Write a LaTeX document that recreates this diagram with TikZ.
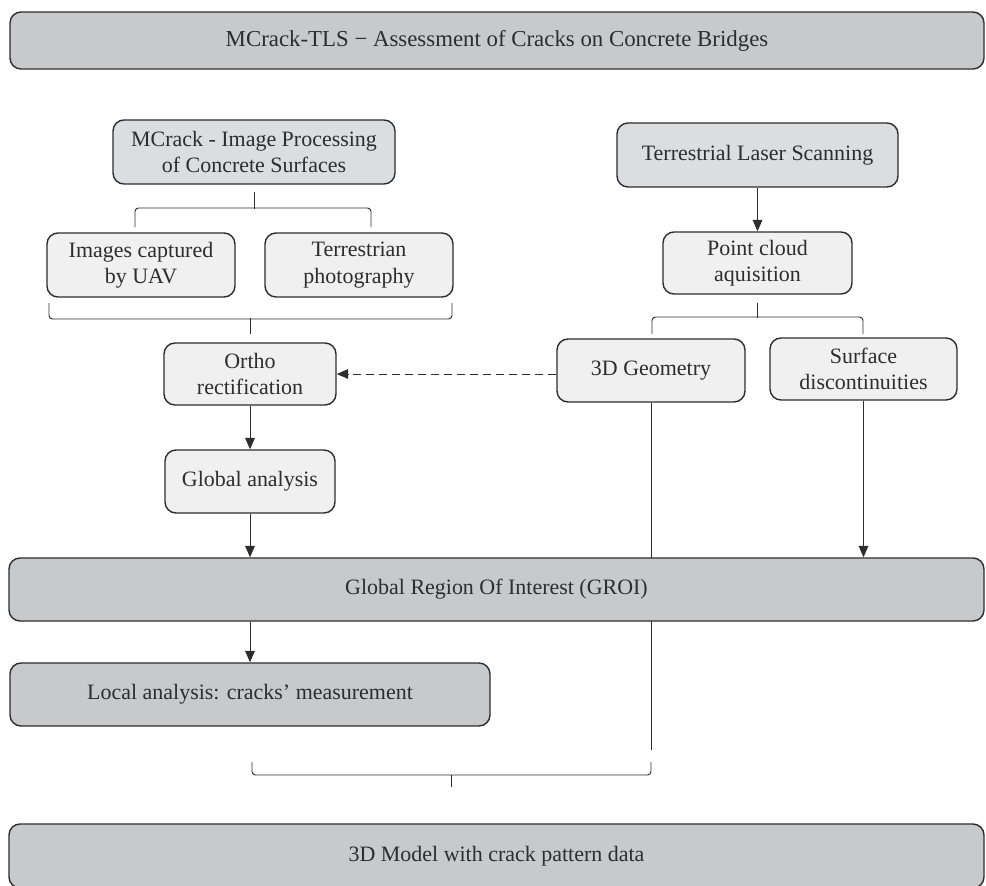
\documentclass[tikz,border=0pt]{standalone}
\usepackage{fontspec}
\setmainfont{Liberation Serif}
\usetikzlibrary{arrows.meta,calc}
\definecolor{gdark}{RGB}{200,201,203}
\definecolor{gmid}{RGB}{220,221,223}
\definecolor{glight}{RGB}{240,240,240}
\definecolor{ink}{RGB}{45,45,45}

\begin{document}
\begin{tikzpicture}[x=0.02cm,y=-0.02cm,
  box/.style={draw=ink, line width=0.8pt, rounded corners=0.22cm, align=center,
    inner sep=0pt, text=ink, font=\fontsize{12.5}{15}\selectfont},
  dk/.style={box, fill=gdark},
  md/.style={box, fill=gmid},
  lt/.style={box, fill=glight},
  wh/.style 2 args={minimum width=#1*0.02cm, minimum height=#2*0.02cm},
  link/.style={draw=ink, line width=0.55pt},
  arr/.style={link, -{Triangle[length=6.5pt,width=5.5pt]}}]
\useasboundingbox (0,0) rectangle (986,885);
\clip (0,0) rectangle (986,885);

% header
\node[dk, wh={974}{57}, font=\fontsize{13}{15}\selectfont] (title) at (497,40.5) {MCrack-TLS − Assessment of Cracks on Concrete Bridges};

% image branch
\node[md, wh={282}{64}] (mcrack) at (254,152) {MCrack - Image Processing\\of Concrete Surfaces};
\foreach \n/\x/\t in {uav/141/{Images captured\\by UAV}, photo/359/{Terrestrian\\photography}}
  \node[lt, wh={188}{64}] (\n) at (\x,265) {\t};
\node[lt, wh={172}{62}] (ortho) at (250,374) {Ortho\\rectification};
\node[lt, wh={170}{63}] (glob) at (250,481.5) {Global analysis};

% laser branch
\node[md, wh={281}{64}] (tls) at (757.5,155) {Terrestrial Laser Scanning};
\node[lt, wh={189}{62}] (pc) at (757.5,263) {Point cloud\\aquisition};
\node[lt, wh={188}{63}] (geo) at (651,370.5) {3D Geometry};
\node[lt, wh={187}{62}] (surf) at (863.5,369) {Surface\\discontinuities};

% brackets
\coordinate (s1) at ($(mcrack.south)+(0,7)$);
\draw[link] (s1) -- ++(0,17);
\draw[link, rounded corners=2pt] (135,227) |- (371,208) -- (371,227);
\draw[link, rounded corners=2pt] (49,303) |- (452,319) -- (452,303);
\coordinate (s2) at ($(ortho.north)+(0,-8)$);
\draw[link] (s2) -- ++(0,-16);
\coordinate (s3) at ($(pc.south)+(0,8)$);
\draw[link] (s3) -- ++(0,15);
\draw[link, rounded corners=2pt] (652,334) |- (863,317) -- (863,334);

% connectors
\draw[arr] (tls) -- (pc);
\draw[arr, dash pattern=on 8*0.02cm off 5*0.02cm] (geo.west |- ortho.east) -- (ortho.east);
\draw[arr] (ortho) -- (glob);
\coordinate (gend) at (651,750);
\draw[link] (geo.south) -- (gend);

% lower part
\node[dk, wh={975}{63}] (groi) at (496.5,589.5) {Global Region Of Interest (GROI)};
\node[dk, wh={480}{63}] (local) at (250,694.5) {Local analysis: cracks’ measurement};
\node[dk, wh={975}{64}] (model) at (496.5,856) {3D Model with crack pattern data};

\draw[arr] (glob.south) -- (glob.south |- groi.north);
\draw[arr] (surf.south) -- (surf.south |- groi.north);
\draw[arr] (local.north |- groi.south) -- (local.north);

\draw[link, rounded corners=2pt] (252,762) |- (651,775) -- (651,762);
\coordinate (s4) at (451,787);
\draw[link] (s4) -- ++(0,-12);
\end{tikzpicture}
\end{document}
